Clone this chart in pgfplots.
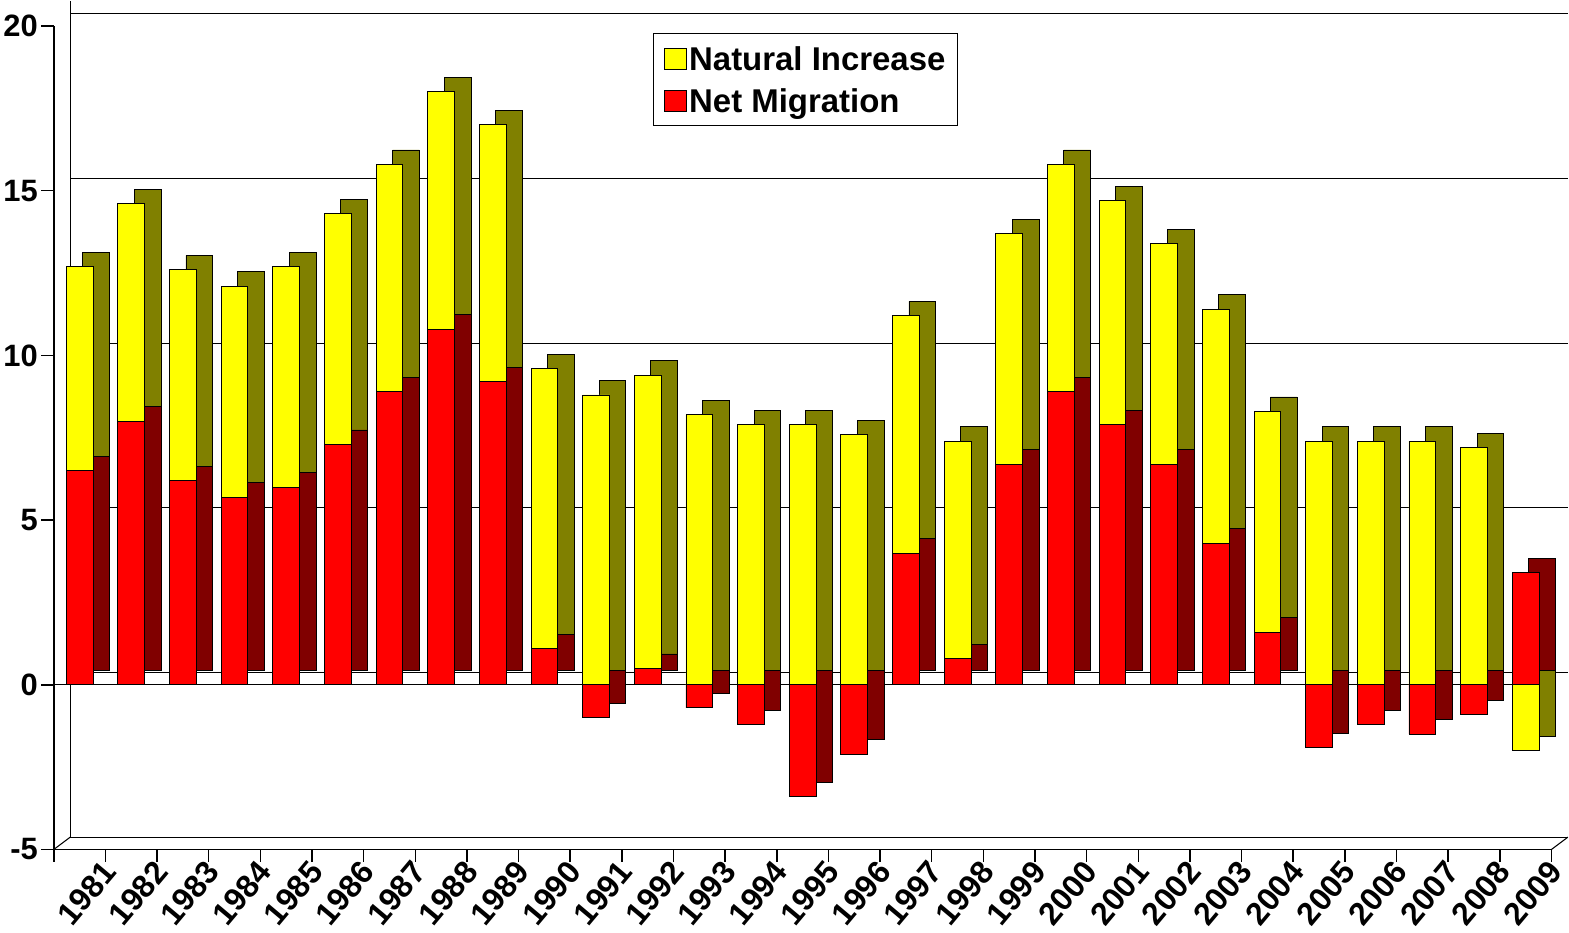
\documentclass[border=0pt]{standalone}
\usepackage{pgfplots}
\pgfplotsset{compat=1.18}
\usepackage{fontspec}
\setmainfont{Liberation Sans}
\definecolor{yel}{RGB}{255,255,0}
\definecolor{dyel}{RGB}{128,128,0}
\definecolor{rd}{RGB}{255,0,0}
\definecolor{drd}{RGB}{128,0,0}
\begin{document}
\begin{tikzpicture}
\begin{axis}[
  scale only axis, width=1455pt, height=800pt,
  xmin=-0.5, xmax=28.5, ymin=-5, ymax=20,
  axis lines=left, axis line style={line width=1.5pt,-},
  ytick={-5,0,5,10,15,20},
  xtick={-0.5,0.5,...,28.5}, xticklabels={},
  extra x ticks={0,...,28}, extra x tick style={major tick length=0pt,
     xticklabel style={rotate=50,anchor=north east,xshift=10pt,yshift=-18pt,font=\bfseries\fontsize{31}{31}\selectfont}},
  extra x tick labels={1981,1982,1983,1984,1985,1986,1987,1988,1989,1990,1991,1992,1993,1994,1995,1996,1997,1998,1999,2000,2001,2002,2003,2004,2005,2006,2007,2008,2009},
  yticklabel style={font=\bfseries\fontsize{30}{30}\selectfont},
  /pgf/number format/assume math mode=true,
  tick style={line width=1.5pt,black},
  major tick length=12pt,
  tick align=outside,
  ymajorgrids, major grid style={black,line width=1pt,xshift=16pt,yshift=12pt},
  clip=false,
  ybar, bar width=26pt, bar shift=0pt,
  legend style={at={(0.40,0.991)},anchor=north west,draw=black,line width=1pt,
     font=\bfseries\fontsize{32}{32}\selectfont, row sep=12pt, inner sep=10pt, cells={anchor=west}},
  legend image code/.code={\draw[#1,draw=black] (20pt,-10pt) rectangle (42pt,10pt);},
]
\draw[line width=1pt] ([xshift=16pt,yshift=12pt]axis cs:-0.5,-5) -- ([xshift=16pt,yshift=12pt]axis cs:-0.5,20.4);
\draw[line width=1pt] ([xshift=16pt,yshift=12pt]axis cs:-0.5,-5) -- ([xshift=16pt,yshift=12pt]axis cs:28.5,-5);
\draw[line width=1pt] (axis cs:-0.5,-5) -- ([xshift=16pt,yshift=12pt]axis cs:-0.5,-5);
\draw[line width=1pt] (axis cs:28.5,-5) -- ([xshift=16pt,yshift=12pt]axis cs:28.5,-5);
\draw[line width=1.2pt] (axis cs:-0.5,0) -- (axis cs:28.5,0);
\addplot[forget plot, fill=dyel, draw=black, line width=0.8pt, xshift=16pt, yshift=14pt] coordinates {
(0,12.7)(1,14.6)(2,12.6)(3,12.1)(4,12.7)(5,14.3)(6,15.8)(7,18.0)(8,17.0)(9,9.6)(10,8.8)(11,9.4)(12,8.2)(13,7.9)(14,7.9)(15,7.6)(16,11.2)(17,7.4)(18,13.7)(19,15.8)(20,14.7)(21,13.4)(22,11.4)(23,8.3)(24,7.4)(25,7.4)(26,7.4)(27,7.2)(28,-2.0)};
\addplot[forget plot, fill=drd, draw=black, line width=0.8pt, xshift=16pt, yshift=14pt] coordinates {
(0,6.5)(1,8.0)(2,6.2)(3,5.7)(4,6.0)(5,7.3)(6,8.9)(7,10.8)(8,9.2)(9,1.1)(10,-1.0)(11,0.5)(12,-0.7)(13,-1.2)(14,-3.4)(15,-2.1)(16,4.0)(17,0.8)(18,6.7)(19,8.9)(20,7.9)(21,6.7)(22,4.3)(23,1.6)(24,-1.9)(25,-1.2)(26,-1.5)(27,-0.9)(28,3.4)};
\addplot[fill=yel, draw=black, line width=0.8pt] coordinates {
(0,12.7)(1,14.6)(2,12.6)(3,12.1)(4,12.7)(5,14.3)(6,15.8)(7,18.0)(8,17.0)(9,9.6)(10,8.8)(11,9.4)(12,8.2)(13,7.9)(14,7.9)(15,7.6)(16,11.2)(17,7.4)(18,13.7)(19,15.8)(20,14.7)(21,13.4)(22,11.4)(23,8.3)(24,7.4)(25,7.4)(26,7.4)(27,7.2)(28,-2.0)};
\addlegendentry{Natural Increase}
\addplot[fill=rd, draw=black, line width=0.8pt] coordinates {
(0,6.5)(1,8.0)(2,6.2)(3,5.7)(4,6.0)(5,7.3)(6,8.9)(7,10.8)(8,9.2)(9,1.1)(10,-1.0)(11,0.5)(12,-0.7)(13,-1.2)(14,-3.4)(15,-2.1)(16,4.0)(17,0.8)(18,6.7)(19,8.9)(20,7.9)(21,6.7)(22,4.3)(23,1.6)(24,-1.9)(25,-1.2)(26,-1.5)(27,-0.9)(28,3.4)};
\addlegendentry{Net Migration}
\end{axis}
\end{tikzpicture}
\end{document}
